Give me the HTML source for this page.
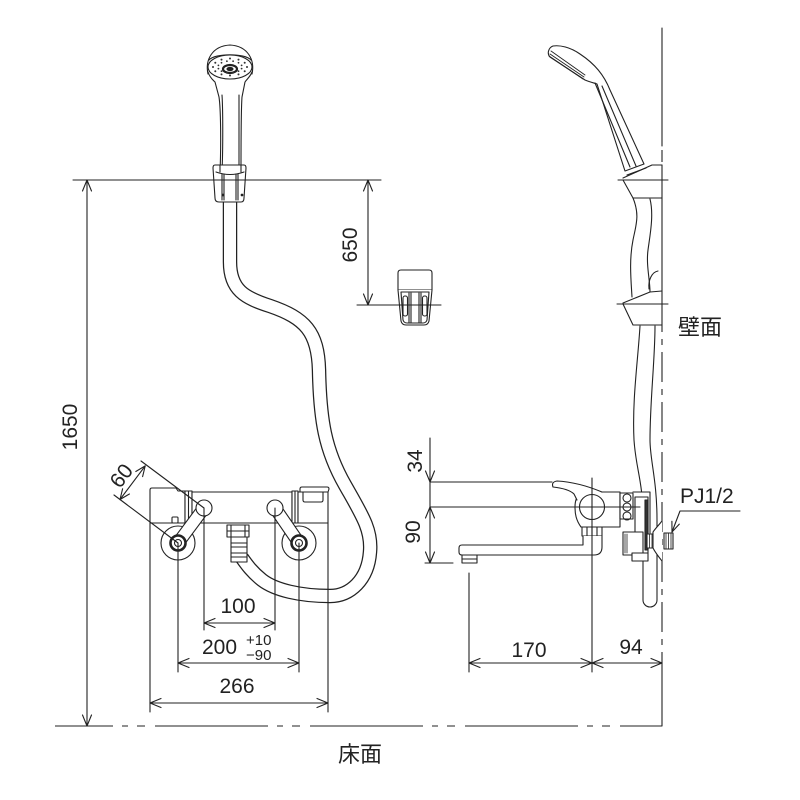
<!DOCTYPE html>
<html><head><meta charset="utf-8">
<style>
html,body{margin:0;padding:0;background:#fff;}
svg{display:block;}
text{font-family:"Liberation Sans","Noto Sans CJK JP",sans-serif;fill:#222;stroke:none;}
</style></head><body>
<svg width="800" height="800" viewBox="0 0 800 800" xmlns="http://www.w3.org/2000/svg">
<rect width="800" height="800" fill="#fff"/>
<g fill="none" stroke="#222" stroke-width="1.1" stroke-linejoin="round" stroke-linecap="round">

<!-- ===== Hose (front view) ===== -->
<path d="M230,200 L230,262 C230,290 245,298 270,306 C305,318 318,332 319,370 C320,420 325,450 345,485 C362,515 372,530 370,552 C368,580 350,596 330,596 C300,596 275,590 262,580 C252,572 247,565 242,558" stroke="#222" stroke-width="14.5" stroke-linecap="butt"/>
<path d="M230,199 L230,262 C230,290 245,298 270,306 C305,318 318,332 319,370 C320,420 325,450 345,485 C362,515 372,530 370,552 C368,580 350,596 330,596 C300,596 275,590 262,580 C252,572 247,565 242,558" stroke="#fff" stroke-width="12" stroke-linecap="butt"/>

<!-- ===== Shower head front ===== -->
<path d="M208,74 C205,60 212,46 230,45 C248,46 255,60 252,74" fill="#fff"/>
<path d="M209,60 C215,53 245,53 251,60"/>
<path d="M208,72 C210,78 213,80 215,82 L219,97 C221,110 221,150 220,172" fill="none"/>
<path d="M252,72 C250,77 247,79 245,82 L242,97 C241,110 241,150 241,172" fill="none"/>
<path d="M222,95 C223,110 223,150 222,172"/>
<path d="M239,95 C239,110 239,150 239,172"/>
<ellipse cx="230" cy="67" rx="22" ry="12" fill="#fff"/>
<ellipse cx="230" cy="69" rx="7" ry="4" stroke-width="2.2"/>
<ellipse cx="230" cy="69" rx="3" ry="1.6" fill="#222"/>
<g fill="#333" stroke="none">
<circle cx="247" cy="67" r="1"/><circle cx="244.7" cy="71.3" r="1"/><circle cx="238.5" cy="74.4" r="1"/><circle cx="230" cy="75.5" r="1"/><circle cx="221.5" cy="74.4" r="1"/><circle cx="215.3" cy="71.3" r="1"/><circle cx="213" cy="67" r="1"/><circle cx="215.3" cy="62.8" r="1"/><circle cx="221.5" cy="59.6" r="1"/><circle cx="230" cy="58.5" r="1"/><circle cx="238.5" cy="59.6" r="1"/><circle cx="244.7" cy="62.8" r="1"/>
<circle cx="241.6" cy="68.6" r="0.9"/><circle cx="238.5" cy="71.2" r="0.9"/><circle cx="233.1" cy="72.8" r="0.9"/><circle cx="226.9" cy="72.8" r="0.9"/><circle cx="221.5" cy="71.2" r="0.9"/><circle cx="218.4" cy="68.6" r="0.9"/><circle cx="218.4" cy="65.4" r="0.9"/><circle cx="221.5" cy="62.8" r="0.9"/><circle cx="226.9" cy="61.2" r="0.9"/><circle cx="233.1" cy="61.2" r="0.9"/><circle cx="238.5" cy="62.8" r="0.9"/><circle cx="241.6" cy="65.4" r="0.9"/>
</g>
<!-- holder front -->
<path d="M215,165 Q213,165 213,168 L215,198 Q215,202 219,202 L241,202 Q244,202 244,198 L246,168 Q246,165 244,165 Z" fill="#fff"/>
<path d="M220,165 L220,172 M241,165 L241,172"/>
<path d="M216,172 Q230,177 244,172"/>
<path d="M222,174 L222,200 M224,174 L224,200 M236,174 L236,200 M238,174 L238,200"/>
<circle cx="223" cy="195" r="0.8" fill="#222"/><circle cx="242" cy="195" r="0.8" fill="#222"/>

<!-- ===== Top dimension lines ===== -->
<line x1="73" y1="180" x2="381" y2="180"/>
<line x1="87" y1="180" x2="87" y2="726"/>
<polyline points="82.5,191 87,180 91.5,191"/>
<polyline points="82.5,715 87,726 91.5,715"/>
<line x1="368" y1="180" x2="368" y2="305"/>
<polyline points="363.5,191 368,180 372.5,191"/>
<polyline points="363.5,294 368,305 372.5,294"/>

<!-- ===== Bracket (middle) ===== -->
<path d="M398,290 L398,273 Q398,270 401,270 L429,270 Q432,270 432,273 L432,290 Z" fill="#fff"/>
<path d="M398,290 L401,321 Q402,325 406,325 L424,325 Q428,325 429,321 L432,290" fill="#fff"/>
<path d="M401,292 L403,320 Q404,323 407,323 L423,323 Q426,323 427,320 L429,292 Z"/>
<path d="M409,293 L409,323 M411,293 L411,323 M419,293 L419,323 M421,293 L421,323"/>
<rect x="403" y="296" width="4.5" height="20" rx="2"/>
<rect x="422.5" y="296" width="4.5" height="20" rx="2"/>
<line x1="357" y1="305" x2="441" y2="305"/>

<!-- ===== Faucet front ===== -->
<!-- eccentric outer circles -->
<circle cx="178" cy="543" r="17" fill="#fff"/>
<circle cx="299" cy="543" r="17" fill="#fff"/>
<!-- left cap -->
<path d="M150,523 L150,490 Q150,488 152,488 L176,488 L178,491 L185,491 L185,523 Z" fill="#fff"/>
<rect x="172" y="517" width="6" height="6" rx="1"/>
<rect x="185" y="491" width="7" height="32" fill="#fff"/>
<line x1="188.5" y1="491" x2="188.5" y2="523"/>
<rect x="192" y="492" width="100" height="31" fill="#fff"/>
<rect x="292" y="491" width="6" height="32" fill="#fff"/>
<line x1="295" y1="491" x2="295" y2="523"/>
<path d="M298,523 L298,492 L300,492 L300,489 Q300,487 302,487 L327,487 Q329,487 329,489 L328,492 L328,523 Z" fill="#fff"/>
<path d="M300,492 L328,492"/>
<path d="M303,492 L303,500 Q303,502 305,502 L321,502 Q323,502 323,500 L323,492"/>
<!-- bands -->
<path d="M204,508 L178,543" stroke="#222" stroke-width="13.2" stroke-linecap="butt"/>
<path d="M204,508 L178,543" stroke="#fff" stroke-width="11" stroke-linecap="butt"/>
<path d="M275,508 L299,543" stroke="#222" stroke-width="13.2" stroke-linecap="butt"/>
<path d="M275,508 L299,543" stroke="#fff" stroke-width="11" stroke-linecap="butt"/>
<circle cx="204" cy="508" r="8" fill="#fff"/>
<circle cx="275" cy="508" r="8" fill="#fff"/>
<circle cx="178" cy="543" r="7.5" fill="#fff" stroke-width="2.6"/>
<circle cx="178" cy="543" r="3.5"/>
<circle cx="299" cy="543" r="7.5" fill="#fff" stroke-width="2.6"/>
<circle cx="299" cy="543" r="3.5"/>
<!-- connector -->
<rect x="227" y="525" width="22" height="12" fill="#fff"/>
<path d="M231,525 L231,537 M245,525 L245,537 M227,531 L249,531"/>
<rect x="231" y="537" width="16" height="25" fill="#fff"/>
<path d="M231,543 L247,543 M231,547 L247,547 M231,553 L247,553 M231,557 L247,557"/>

<!-- extension lines front -->
<line x1="150" y1="523" x2="150" y2="712"/>
<line x1="328" y1="523" x2="328" y2="712"/>
<line x1="178" y1="543" x2="178" y2="672"/>
<line x1="299" y1="543" x2="299" y2="672"/>
<line x1="204" y1="508" x2="204" y2="630"/>
<line x1="275" y1="508" x2="275" y2="630"/>
<!-- 60 dim -->
<line x1="204" y1="508" x2="141" y2="461"/>
<line x1="178" y1="543" x2="114" y2="495"/>
<line x1="120" y1="499.5" x2="145.2" y2="465.9"/>
<polyline points="142.6,476.6 145.2,465.9 135.8,471.5"/>
<polyline points="129.4,494 120,499.5 122.6,488.8"/>
<!-- 100 / 200 / 266 dims -->
<line x1="204" y1="623" x2="275" y2="623"/>
<polyline points="215,618.5 204,623 215,627.5"/>
<polyline points="264,618.5 275,623 264,627.5"/>
<line x1="178" y1="663" x2="299" y2="663"/>
<polyline points="189,658.5 178,663 189,667.5"/>
<polyline points="288,658.5 299,663 288,667.5"/>
<line x1="150" y1="703" x2="328" y2="703"/>
<polyline points="161,698.5 150,703 161,707.5"/>
<polyline points="317,698.5 328,703 317,707.5"/>

<!-- ===== Floor and wall ===== -->
<line x1="55" y1="726" x2="662" y2="726" stroke-linecap="butt" stroke-dasharray="113 9 6 9 8 10" stroke-dashoffset="55"/>
<line x1="662" y1="28" x2="662" y2="146"/>
<line x1="662" y1="150" x2="662" y2="162" stroke-linecap="butt"/>
<line x1="662" y1="165" x2="662" y2="302"/>
<line x1="662" y1="302" x2="662" y2="655" stroke-linecap="butt" stroke-dasharray="30 7 6 7"/>
<line x1="662" y1="655" x2="662" y2="726"/>

<!-- ===== Side view shower ===== -->
<path d="M553,46 C548,48 547,54 550,57 L585,80 C590,82 594,83 597,84 L625,171 L644,164 L610,90 C604,75 595,64 580,54 C570,47 560,45 553,46 Z" fill="#fff"/>
<path d="M551,51 L585,75 M550,54 L584,77 M549,56 L583,79" stroke-width="0.9"/>
<path d="M595,83 L630,167 M602,86 L636,166"/>
<path d="M627,175 L646,168"/>
<!-- upper holder -->
<path d="M623,178 L652,165 L662,165" fill="none"/>
<line x1="618" y1="180" x2="668" y2="180"/>
<path d="M623,180 L633,198 L662,198"/>
<!-- bar -->
<path d="M633,198 C640,215 636,225 633,240 C629,260 631,280 632,297"/>
<path d="M650,199 C654,215 650,235 648,250 C646,265 650,280 650,292"/>
<path d="M649,289 C648,280 652,272 658,271"/>
<!-- lower holder -->
<path d="M623,303 L650,292 L662,291"/>
<line x1="617" y1="304" x2="668" y2="304"/>
<path d="M623,304 L633,325 L662,325"/>
<!-- hose side -->
<path d="M640,326 C638,360 632,400 634,440 C636,470 643,480 643,520 L643,600 A7,7 0 0 0 657,600 L657,520 C657,480 650,460 650,440 C650,400 655,360 655,326"/>

<!-- ===== Side view faucet ===== -->
<path d="M581,492 L620,492 L620,527 L581,527 C576,520 575,514 575,507 C575,500 577,496 581,492 Z" fill="#fff"/>
<path d="M602,492 C590,487 575,482 557,481 Q551,482 553,487 C562,488 570,490 574,494 L577,500" fill="#fff"/>
<circle cx="592" cy="507" r="12.5"/>
<rect x="582" y="527" width="20" height="9" fill="#fff"/>
<path d="M587,527 L587,536 M592,527 L592,536 M597,527 L597,536"/>
<path d="M583,536 L583,545 L462,545 Q459,545 459,548 L459,552 Q459,555 462,555 L594,555 Q602,555 602,547 L602,536" fill="#fff"/>
<rect x="462" y="555" width="15" height="8" fill="#fff"/>
<line x1="462" y1="559" x2="477" y2="559"/>
<!-- nuts and bracket -->
<rect x="620" y="493" width="13" height="26" fill="#fff"/>
<circle cx="627" cy="498" r="4"/><circle cx="627" cy="507" r="4"/><circle cx="627" cy="516" r="4"/>
<path d="M633,492 L650,492 L650,533" fill="#fff"/>
<rect x="635" y="497" width="13" height="56" fill="#fff"/>
<rect x="645" y="500" width="3" height="50" fill="#333"/>
<rect x="623" y="532" width="20" height="23" fill="#fff"/>
<path d="M625,534 L625,553 M627,534 L627,553" stroke-width="0.8"/>
<rect x="632" y="553" width="16" height="8" fill="#fff"/>
<rect x="647" y="534" width="7" height="14" fill="#fff"/>
<path d="M649.5,534 L649.5,548 M652,534 L652,548" stroke-width="0.8"/>
<path d="M662,521 C658,526 655,529 653,532 L653,548 C655,552 658,556 662,561" fill="#fff"/>
<rect x="664" y="533" width="9" height="16" fill="#fff"/>
<path d="M666,533 L666,549 M668.5,533 L668.5,549 M671,533 L671,549" stroke-width="0.8"/>

<!-- side dims -->
<line x1="430" y1="438" x2="430" y2="563"/>
<line x1="430" y1="482" x2="552" y2="482"/>
<line x1="430" y1="507" x2="640" y2="507"/>
<line x1="425" y1="563" x2="453" y2="563"/>
<polyline points="425.5,471 430,482 434.5,471"/>
<polyline points="425.5,518 430,507 434.5,518"/>
<polyline points="425.5,552 430,563 434.5,552"/>
<line x1="592" y1="478" x2="592" y2="672"/>
<line x1="469" y1="573" x2="469" y2="672"/>
<line x1="469" y1="663" x2="662" y2="663"/>
<polyline points="480,658.5 469,663 480,667.5"/>
<polyline points="581,658.5 592,663 581,667.5"/>
<polyline points="603,658.5 592,663 603,667.5"/>
<polyline points="651,658.5 662,663 651,667.5"/>
<!-- PJ leader -->
<polyline points="740,511 680,511 672,532"/>
<polyline points="679.3,524.1 672,532 671.9,521.3"/>
</g>

<!-- ===== Text ===== -->
<text x="238" y="613" text-anchor="middle" font-size="21">100</text>
<text x="202" y="654" font-size="21">200</text>
<text x="246" y="645" font-size="15">+10</text>
<text x="246" y="660" font-size="15">−90</text>
<text x="237" y="693" text-anchor="middle" font-size="21">266</text>
<text x="529" y="657" text-anchor="middle" font-size="21">170</text>
<text x="631" y="654" text-anchor="middle" font-size="21">94</text>
<text x="678" y="335" font-size="22">壁面</text>
<text x="360" y="762" text-anchor="middle" font-size="22">床面</text>
<text x="680" y="503" font-size="21">PJ1/2</text>
<text transform="translate(77,427) rotate(-90)" text-anchor="middle" font-size="21">1650</text>
<text transform="translate(357,245) rotate(-90)" text-anchor="middle" font-size="21">650</text>
<text transform="translate(422,461) rotate(-90)" text-anchor="middle" font-size="21">34</text>
<text transform="translate(420,532) rotate(-90)" text-anchor="middle" font-size="21">90</text>
<text transform="translate(127,480) rotate(-53)" text-anchor="middle" font-size="21">60</text>
</svg>
</body></html>
